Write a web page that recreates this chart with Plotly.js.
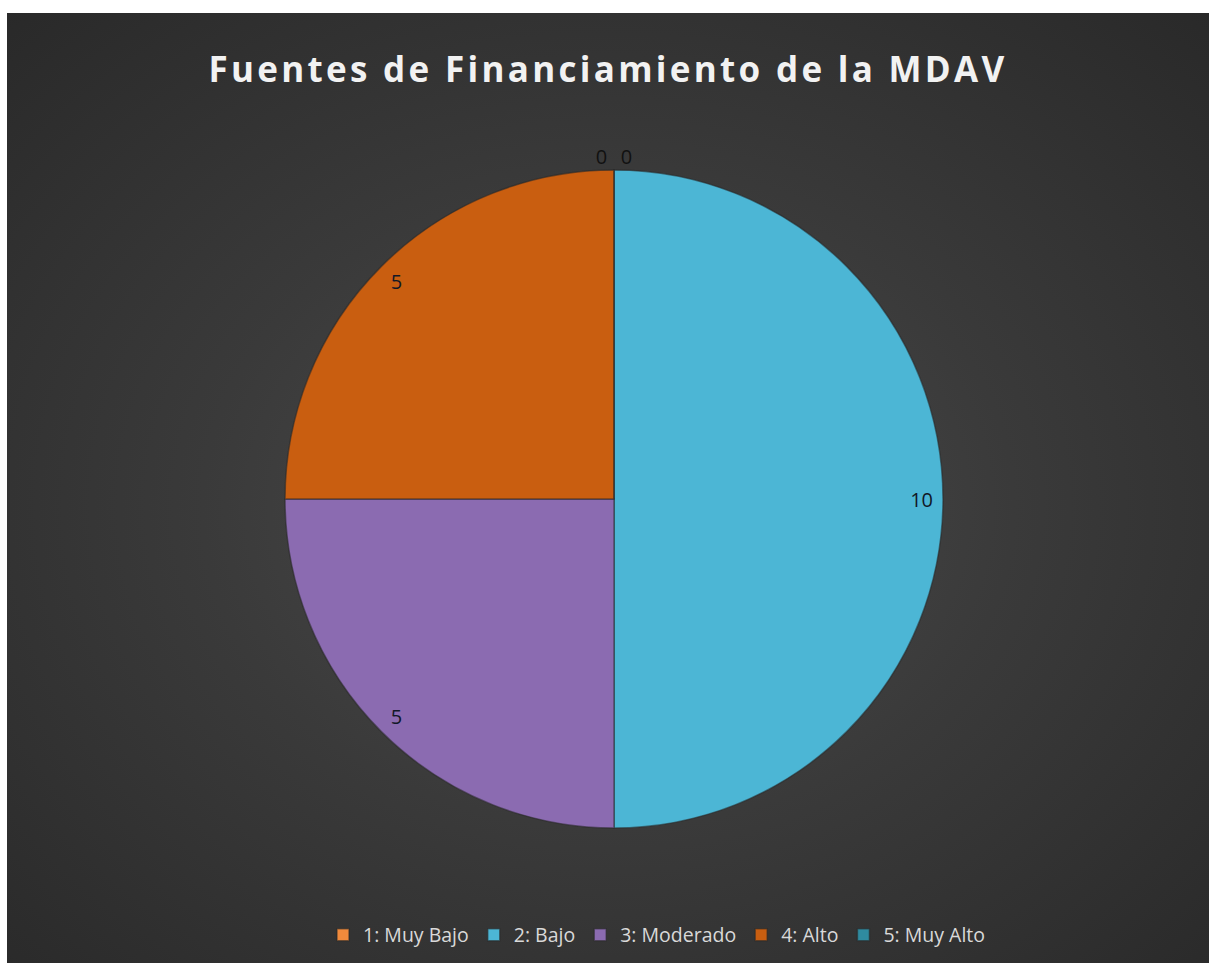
<!DOCTYPE html>
<html>
<head>
<meta charset="utf-8">
<script src="https://cdn.plot.ly/plotly-3.0.1.min.js"></script>
<style>
  html, body { margin: 0; padding: 0; background: #ffffff; }
  #wrap {
    position: absolute; left: 7px; top: 13px; width: 1202px; height: 950px;
    background: radial-gradient(ellipse 75% 75% at 50% 52%, #4c4c4c 0%, #3a3a3a 45%, #282828 100%);
  }
  #chart { width: 1202px; height: 950px; }
  .gtitle { letter-spacing: 3.3px; }
</style>
</head>
<body>
<div id="wrap"><div id="chart"></div></div>
<script>
var categories = ["1: Muy Bajo", "2: Bajo", "3: Moderado", "4: Alto", "5: Muy Alto"];
var values = [0, 10, 5, 5, 0];
var sliceColors = ["#f08a3c", "#4cb6d5", "#8b6bb1", "#c95e10", "#2f8ba0"];
var chartTitle = "Fuentes de Financiamiento de la MDAV";

var dom = { x: [0.2313, 0.7787], y: [0.1421, 0.8347] };

var mainPie = {
  type: "pie",
  labels: categories,
  values: values,
  sort: false,
  direction: "clockwise",
  rotation: 0,
  domain: dom,
  marker: { colors: sliceColors, line: { color: "rgba(40,40,40,0.55)", width: 1.5 } },
  textinfo: "value",
  textposition: values.map(function(v){ return v === 0 ? "outside" : "none"; }),
  outsidetextfont: { family: "Open Sans, sans-serif", size: 20, color: "#111111" },
  hoverinfo: "label+value",
  showlegend: true
};

var labelPie = {
  type: "pie",
  labels: categories,
  values: values,
  sort: false,
  direction: "clockwise",
  rotation: 0,
  domain: dom,
  hole: 0.87,
  marker: { colors: categories.map(function(){ return "rgba(0,0,0,0)"; }), line: { width: 0 } },
  textinfo: "value",
  textposition: values.map(function(v){ return v === 0 ? "none" : "inside"; }),
  insidetextorientation: "horizontal",
  textfont: { family: "Open Sans, sans-serif", size: 20, color: "#111827" },
  hoverinfo: "skip",
  showlegend: false
};

var layout = {
  width: 1202,
  height: 950,
  margin: { l: 0, r: 0, t: 0, b: 0 },
  paper_bgcolor: "rgba(0,0,0,0)",
  plot_bgcolor: "rgba(0,0,0,0)",
  title: {
    text: "<b>" + chartTitle + "</b>",
    x: 0.5, xanchor: "center",
    y: 1 - 57 / 950, yanchor: "middle",
    font: { family: "Open Sans, sans-serif", size: 35, color: "#f2f2f2" }
  },
  legend: {
    orientation: "h",
    x: 650 / 1202, xanchor: "center",
    y: 28 / 950, yanchor: "middle",
    font: { family: "Open Sans, sans-serif", size: 19.5, color: "#d9d9d9" },
    traceorder: "normal",
    itemclick: false
  },
  showlegend: true
};

Plotly.newPlot("chart", [mainPie, labelPie], layout, { displayModeBar: false, staticPlot: true });
</script>
</body>
</html>
